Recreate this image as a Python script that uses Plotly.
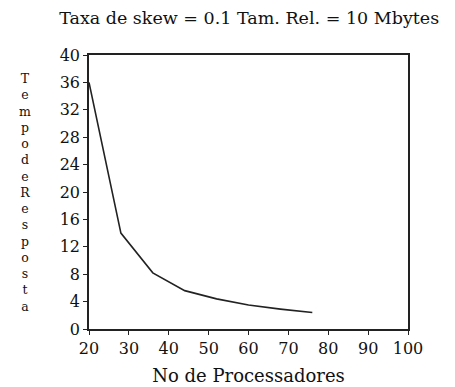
import plotly.graph_objects as go

processadores = [20, 28, 36, 44, 52, 60, 68, 76]
tempo_resposta = [36.0, 14.0, 8.2, 5.6, 4.4, 3.5, 2.9, 2.4]
x_ticks = [20, 30, 40, 50, 60, 70, 80, 90, 100]
y_ticks = [0, 4, 8, 12, 16, 20, 24, 28, 32, 36, 40]
titulo = "Taxa de skew = 0.1 Tam. Rel. = 10 Mbytes"
x_label = "No de Processadores"
y_label = "TempodeResposta"

font_family = "DejaVu Serif, Liberation Serif, serif"

fig = go.Figure()
fig.add_trace(go.Scatter(
    x=processadores, y=tempo_resposta, mode="lines",
    line=dict(color="#222222", width=1.6), showlegend=False,
))

fig.update_layout(
    width=455, height=387,
    margin=dict(l=81, r=55, t=47, b=64),
    paper_bgcolor="white", plot_bgcolor="white",
    font=dict(family=font_family, color="#111111", size=16),
    title=dict(text=titulo, xref="container", x=0.53, xanchor="center",
               y=0.99, yanchor="top",
               font=dict(size=17.5, family=font_family)),
    xaxis=dict(range=[20, 100], tickvals=x_ticks, showgrid=False, zeroline=False,
               showline=True, linecolor="#222222", linewidth=1.5, mirror=True,
               ticks="outside", ticklen=4, tickcolor="#222222",
               tickfont=dict(size=16),
               title=dict(text=x_label, font=dict(size=18), standoff=12)),
    yaxis=dict(range=[0, 40], tickvals=y_ticks, showgrid=False, zeroline=False,
               showline=True, linecolor="#222222", linewidth=1.5, mirror=True,
               ticks="outside", ticklen=4, tickcolor="#222222",
               tickfont=dict(size=16)),
)

# vertical stacked y-axis label, one letter per line
fig.add_annotation(
    text="<br>".join(list(y_label)), xref="paper", yref="paper",
    x=-0.2, y=0.498, xanchor="center", yanchor="middle", showarrow=False,
    font=dict(size=12.5, family=font_family), align="center",
)

fig.write_html("out.html")
